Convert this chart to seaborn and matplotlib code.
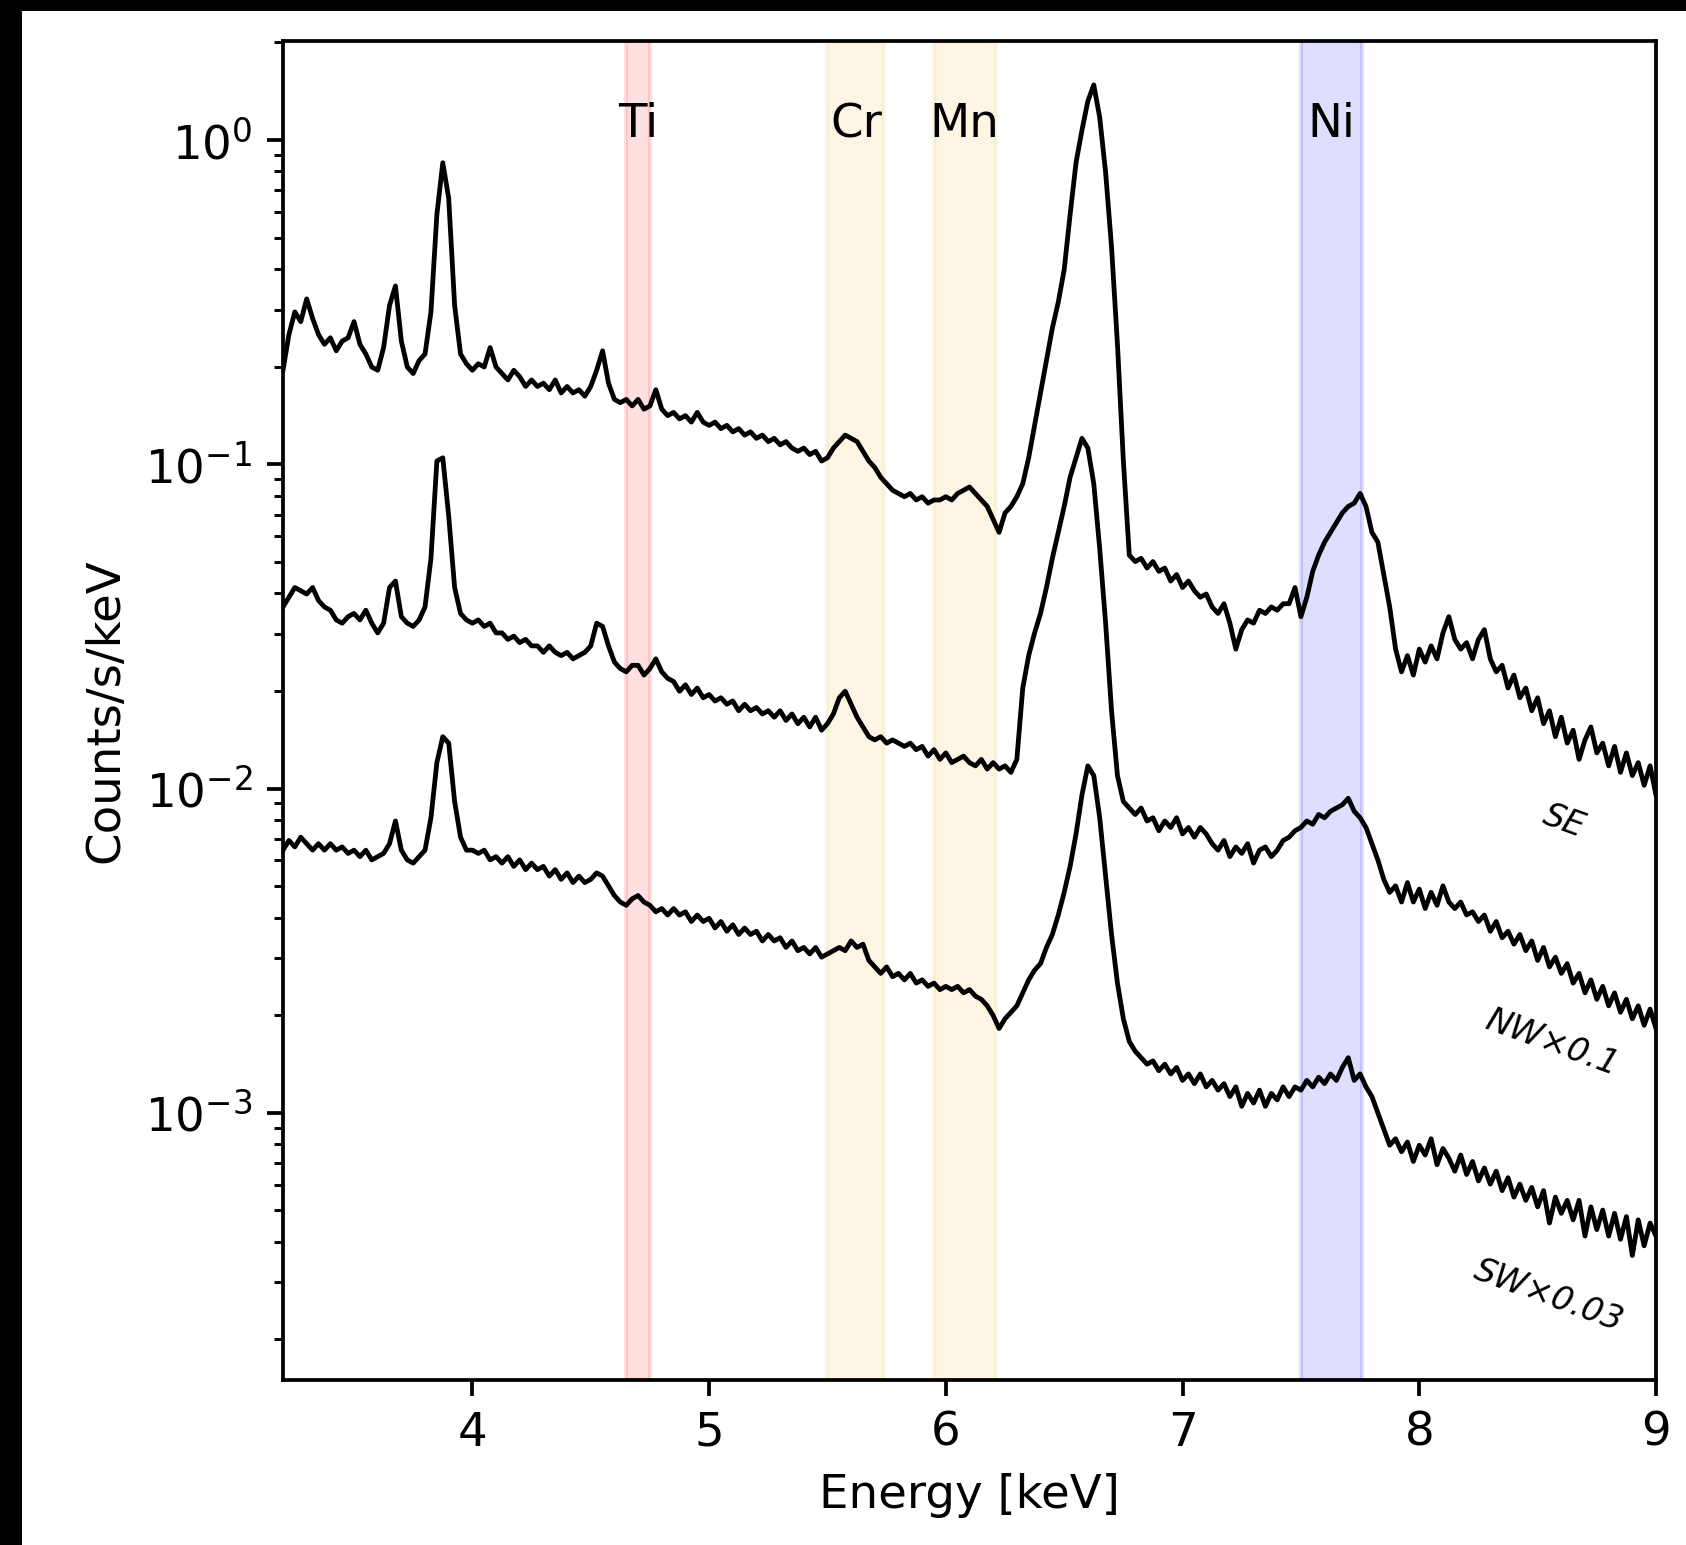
import numpy as np
import pandas as pd
import matplotlib
matplotlib.use("Agg")
import matplotlib.pyplot as plt
from matplotlib.patches import Rectangle
import seaborn as sns

# ---------------- data ----------------
# spectra sampled every BIN_WIDTH keV starting at ENERGY_START
ENERGY_START = 3.2
BIN_WIDTH = 0.025

# log10 of counts/s/keV, as plotted (NW already x0.1, SW already x0.03)
SE_LOG10 = [
    -0.71, -0.60, -0.53, -0.56, -0.49, -0.55, -0.60, -0.63,
    -0.61, -0.65, -0.62, -0.61, -0.56, -0.63, -0.66, -0.70,
    -0.71, -0.64, -0.51, -0.45, -0.62, -0.70, -0.72, -0.68,
    -0.66, -0.53, -0.23, -0.07, -0.18, -0.51, -0.66, -0.69,
    -0.71, -0.69, -0.70, -0.64, -0.70, -0.72, -0.74, -0.71,
    -0.73, -0.76, -0.74, -0.76, -0.75, -0.77, -0.74, -0.78,
    -0.76, -0.78, -0.77, -0.79, -0.76, -0.71, -0.65, -0.75,
    -0.80, -0.81, -0.80, -0.82, -0.80, -0.83, -0.82, -0.77,
    -0.83, -0.85, -0.84, -0.86, -0.85, -0.87, -0.84, -0.87,
    -0.88, -0.87, -0.89, -0.88, -0.90, -0.89, -0.91, -0.90,
    -0.92, -0.91, -0.93, -0.92, -0.94, -0.93, -0.95, -0.96,
    -0.95, -0.97, -0.96, -0.99, -0.98, -0.95, -0.93, -0.91,
    -0.92, -0.93, -0.96, -0.99, -1.01, -1.04, -1.06, -1.08,
    -1.09, -1.10, -1.09, -1.11, -1.10, -1.12, -1.11, -1.11,
    -1.10, -1.11, -1.09, -1.08, -1.07, -1.09, -1.11, -1.13,
    -1.17, -1.21, -1.15, -1.13, -1.10, -1.06, -0.98, -0.88,
    -0.78, -0.68, -0.58, -0.50, -0.40, -0.23, -0.07, 0.03,
    0.12, 0.17, 0.07, -0.10, -0.33, -0.63, -0.99, -1.28,
    -1.30, -1.29, -1.32, -1.30, -1.33, -1.32, -1.36, -1.34,
    -1.38, -1.36, -1.39, -1.41, -1.40, -1.44, -1.46, -1.43,
    -1.49, -1.57, -1.51, -1.48, -1.49, -1.45, -1.46, -1.44,
    -1.45, -1.43, -1.43, -1.38, -1.47, -1.41, -1.33, -1.28,
    -1.24, -1.21, -1.18, -1.15, -1.13, -1.12, -1.09, -1.13,
    -1.21, -1.24, -1.34, -1.44, -1.57, -1.64, -1.59, -1.65,
    -1.57, -1.61, -1.56, -1.60, -1.52, -1.47, -1.54, -1.57,
    -1.55, -1.60, -1.54, -1.51, -1.60, -1.64, -1.62, -1.69,
    -1.65, -1.72, -1.69, -1.76, -1.72, -1.80, -1.76, -1.84,
    -1.78, -1.86, -1.82, -1.91, -1.85, -1.81, -1.89, -1.86,
    -1.93, -1.87, -1.95, -1.89, -1.96, -1.92, -1.99, -1.93,
    -2.02,
]

NW_LOG10 = [
    -1.44, -1.41, -1.38, -1.39, -1.40, -1.38, -1.42, -1.44,
    -1.45, -1.48, -1.49, -1.47, -1.46, -1.48, -1.45, -1.49,
    -1.52, -1.49, -1.38, -1.36, -1.47, -1.49, -1.50, -1.48,
    -1.44, -1.29, -0.99, -0.98, -1.16, -1.38, -1.46, -1.48,
    -1.49, -1.48, -1.50, -1.49, -1.52, -1.52, -1.54, -1.53,
    -1.55, -1.54, -1.56, -1.56, -1.58, -1.56, -1.58, -1.59,
    -1.58, -1.60, -1.59, -1.58, -1.56, -1.49, -1.50, -1.56,
    -1.61, -1.63, -1.64, -1.62, -1.62, -1.65, -1.63, -1.60,
    -1.64, -1.66, -1.67, -1.70, -1.68, -1.71, -1.69, -1.72,
    -1.71, -1.73, -1.72, -1.74, -1.73, -1.76, -1.74, -1.76,
    -1.75, -1.77, -1.76, -1.78, -1.76, -1.79, -1.77, -1.80,
    -1.78, -1.81, -1.78, -1.82, -1.80, -1.77, -1.72, -1.70,
    -1.74, -1.78, -1.81, -1.84, -1.85, -1.84, -1.86, -1.85,
    -1.86, -1.87, -1.86, -1.88, -1.87, -1.90, -1.88, -1.91,
    -1.89, -1.92, -1.91, -1.90, -1.92, -1.93, -1.91, -1.94,
    -1.92, -1.94, -1.93, -1.95, -1.91, -1.69, -1.59, -1.52,
    -1.46, -1.38, -1.29, -1.21, -1.13, -1.04, -0.98, -0.92,
    -0.95, -1.06, -1.26, -1.49, -1.76, -1.96, -2.04, -2.06,
    -2.08, -2.06, -2.10, -2.09, -2.13, -2.10, -2.12, -2.09,
    -2.14, -2.12, -2.15, -2.12, -2.14, -2.17, -2.19, -2.16,
    -2.21, -2.18, -2.20, -2.17, -2.23, -2.19, -2.18, -2.21,
    -2.19, -2.16, -2.15, -2.13, -2.12, -2.10, -2.11, -2.08,
    -2.09, -2.07, -2.06, -2.05, -2.03, -2.07, -2.09, -2.12,
    -2.17, -2.22, -2.28, -2.32, -2.30, -2.35, -2.29, -2.35,
    -2.31, -2.37, -2.32, -2.36, -2.30, -2.35, -2.37, -2.35,
    -2.39, -2.38, -2.41, -2.39, -2.44, -2.41, -2.46, -2.44,
    -2.48, -2.45, -2.50, -2.47, -2.53, -2.49, -2.55, -2.52,
    -2.57, -2.54, -2.60, -2.57, -2.63, -2.59, -2.65, -2.61,
    -2.67, -2.63, -2.69, -2.65, -2.71, -2.67, -2.73, -2.68,
    -2.74,
]

SW_LOG10 = [
    -2.19, -2.16, -2.18, -2.15, -2.17, -2.19, -2.17, -2.19,
    -2.17, -2.19, -2.18, -2.20, -2.19, -2.21, -2.19, -2.22,
    -2.21, -2.20, -2.17, -2.10, -2.19, -2.22, -2.23, -2.21,
    -2.19, -2.09, -1.92, -1.84, -1.86, -2.04, -2.15, -2.19,
    -2.19, -2.20, -2.19, -2.22, -2.21, -2.23, -2.21, -2.24,
    -2.22, -2.25, -2.23, -2.25, -2.24, -2.27, -2.25, -2.28,
    -2.26, -2.29, -2.27, -2.29, -2.28, -2.26, -2.27, -2.30,
    -2.33, -2.35, -2.36, -2.34, -2.33, -2.35, -2.36, -2.38,
    -2.37, -2.39, -2.37, -2.39, -2.38, -2.41, -2.39, -2.41,
    -2.40, -2.43, -2.41, -2.44, -2.42, -2.45, -2.43, -2.45,
    -2.44, -2.47, -2.45, -2.47, -2.46, -2.49, -2.47, -2.50,
    -2.49, -2.51, -2.49, -2.52, -2.51, -2.50, -2.49, -2.50,
    -2.47, -2.49, -2.48, -2.53, -2.55, -2.57, -2.55, -2.58,
    -2.57, -2.59, -2.57, -2.60, -2.59, -2.61, -2.60, -2.62,
    -2.61, -2.62, -2.61, -2.63, -2.62, -2.64, -2.65, -2.67,
    -2.70, -2.74, -2.71, -2.69, -2.67, -2.63, -2.59, -2.56,
    -2.54, -2.49, -2.45, -2.39, -2.32, -2.24, -2.14, -2.02,
    -1.93, -1.96, -2.09, -2.27, -2.45, -2.60, -2.71, -2.78,
    -2.81, -2.83, -2.85, -2.84, -2.87, -2.85, -2.88, -2.86,
    -2.90, -2.88, -2.91, -2.88, -2.92, -2.90, -2.93, -2.91,
    -2.95, -2.92, -2.98, -2.94, -2.97, -2.93, -2.98, -2.94,
    -2.96, -2.92, -2.95, -2.92, -2.93, -2.90, -2.92, -2.89,
    -2.91, -2.88, -2.90, -2.86, -2.83, -2.90, -2.88, -2.92,
    -2.95, -3.00, -3.05, -3.10, -3.08, -3.12, -3.09, -3.15,
    -3.10, -3.13, -3.08, -3.16, -3.11, -3.14, -3.18, -3.13,
    -3.19, -3.15, -3.21, -3.17, -3.22, -3.18, -3.24, -3.20,
    -3.26, -3.22, -3.27, -3.23, -3.29, -3.24, -3.34, -3.26,
    -3.31, -3.27, -3.33, -3.27, -3.38, -3.29, -3.36, -3.30,
    -3.38, -3.31, -3.39, -3.32, -3.44, -3.33, -3.41, -3.34,
    -3.38,
]

REGIONS = ["SE", "NW", "SW"]
REGION_LABELS = ["SE", "NW×0.1", "SW×0.03"]
LABEL_ENERGY = [8.61, 8.56, 8.545]
LABEL_FLUX = [7.9e-3, 1.64e-3, 2.73e-4]

ELEMENTS = ["Ti", "Cr", "Mn", "Ni"]
BAND_LO = [4.65, 5.50, 5.95, 7.50]
BAND_HI = [4.75, 5.74, 6.21, 7.76]

# ---------------- styling ----------------
BAND_COLORS = ["red", "orange", "orange", "blue"]
BAND_ALPHA = [0.12, 0.10, 0.10, 0.13]

W, H, DPI = 1686, 1545, 300
plt.rcParams.update({
    "font.family": ["DejaVu Sans"],
    "font.size": 11.2,
    "axes.linewidth": 0.9,
    "xtick.major.size": 3.9,
    "ytick.major.size": 3.9,
    "ytick.minor.size": 2.2,
    "xtick.major.width": 0.9,
    "ytick.major.width": 0.9,
    "ytick.minor.width": 0.7,
})

fig = plt.figure(figsize=(W / DPI, H / DPI), dpi=DPI, facecolor="white")
ax = fig.add_axes([283 / W, (H - 1380) / H, (1656 - 283) / W, (1380 - 41) / H])

# black frame bands of the reference (top and left)
fig.add_artist(Rectangle((0, 1 - 11 / H), 1, 11 / H, transform=fig.transFigure,
                         facecolor="black", edgecolor="none", zorder=10))
fig.add_artist(Rectangle((0, 0), 22 / W, 1, transform=fig.transFigure,
                         facecolor="black", edgecolor="none", zorder=10))

for lo, hi, c, a in zip(BAND_LO, BAND_HI, BAND_COLORS, BAND_ALPHA):
    ax.axvspan(lo, hi, color=c, alpha=a, zorder=0)

frames = []
for name, logs in zip(REGIONS, [SE_LOG10, NW_LOG10, SW_LOG10]):
    logs = np.asarray(logs)
    energy = ENERGY_START + BIN_WIDTH * np.arange(len(logs))
    frames.append(pd.DataFrame({"energy": energy, "flux": 10.0 ** logs, "region": name}))
df = pd.concat(frames, ignore_index=True)

sns.lineplot(data=df, x="energy", y="flux", units="region", estimator=None,
             sort=False, color="black", linewidth=1.15, ax=ax, zorder=3)

ax.set_yscale("log")
ax.set_xlim(3.2, 9.0)
ax.set_ylim(1.5e-4, 2.02)
ax.set_xticks([4, 5, 6, 7, 8, 9])
ax.set_xlabel("Energy [keV]")
ax.set_ylabel("Counts/s/keV")

for el, lo, hi in zip(ELEMENTS, BAND_LO, BAND_HI):
    ax.text((lo + hi) / 2, 1.02, el, ha="center", va="baseline", fontsize=11.2)

for lab, ex, fy in zip(REGION_LABELS, LABEL_ENERGY, LABEL_FLUX):
    ax.text(ex, fy, lab, ha="center", va="center", rotation=-20,
            rotation_mode="anchor", style="italic", fontsize=8.0)

fig.savefig("out.png", dpi=DPI, facecolor="white")
